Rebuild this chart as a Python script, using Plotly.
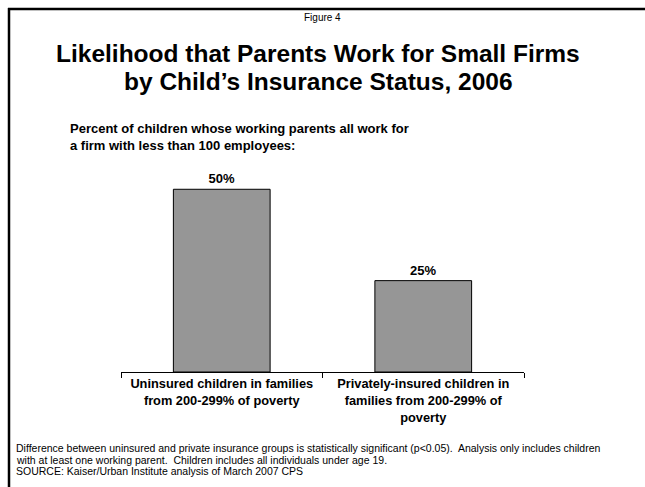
import plotly.graph_objects as go

categories = [
    "Uninsured children in families<br>from 200-299% of poverty",
    "Privately-insured children in<br>families from 200-299% of<br>poverty",
]
values = [50, 25]

W, H = 645, 487
PL, PR, PT, PB = 121, 524, 171, 372  # plot area in pixels
FONT = "Liberation Sans, Arial, sans-serif"


def px(x):
    return (x - PL) / (PR - PL)


def py(y):
    return (PB - y) / (PB - PT)


fig = go.Figure(
    go.Bar(
        x=categories,
        y=values,
        width=0.48,
        marker=dict(color="#969696", line=dict(color="#000000", width=1)),
        text=[f"<b>{v}%</b>" for v in values],
        textposition="outside",
        textfont=dict(family=FONT, size=13, color="#000000"),
        cliponaxis=False,
    )
)

fig.update_layout(
    width=W,
    height=H,
    margin=dict(l=PL, r=W - PR, t=PT, b=H - PB),
    paper_bgcolor="#ffffff",
    plot_bgcolor="#ffffff",
    showlegend=False,
    font=dict(family=FONT, color="#000000"),
    xaxis=dict(
        tickmode="array",
        tickvals=categories,
        ticktext=[f"<b>{c}</b>" for c in categories],
        tickfont=dict(family=FONT, size=12.8, color="#000000"),
        showline=True,
        linecolor="#000000",
        linewidth=1,
        ticks="outside",
        tickson="boundaries",
        ticklen=5,
        tickcolor="#000000",
        showgrid=False,
        fixedrange=True,
    ),
    yaxis=dict(
        range=[0, 55],
        visible=False,
        showgrid=False,
        zeroline=False,
        fixedrange=True,
    ),
)

annotations = [
    dict(text="Figure 4", x=px(322), y=py(17), size=10, bold=False, xanchor="center"),
    dict(text="Likelihood that Parents Work for Small Firms", x=px(318), y=py(53),
         size=24.5, bold=True, xanchor="center"),
    dict(text="by Child\u2019s Insurance Status, 2006", x=px(318), y=py(82),
         size=24.5, bold=True, xanchor="center"),
    dict(text="Percent of children whose working parents all work for", x=px(68), y=py(128),
         size=13, bold=True, xanchor="left"),
    dict(text="a firm with less than 100 employees:", x=px(68), y=py(145),
         size=13, bold=True, xanchor="left"),
    dict(text="Difference between uninsured and private insurance groups is statistically "
              "significant (p<0.05).  Analysis only includes children",
         x=px(14), y=py(448), size=10.5, bold=False, xanchor="left"),
    dict(text="with at least one working parent.  Children includes all individuals under age 19.",
         x=px(14), y=py(460), size=10.5, bold=False, xanchor="left"),
    dict(text="SOURCE: Kaiser/Urban Institute analysis of March 2007 CPS",
         x=px(14), y=py(471), size=10.5, bold=False, xanchor="left"),
]

for a in annotations:
    txt = f"<b>{a['text']}</b>" if a["bold"] else a["text"]
    fig.add_annotation(
        text=txt, x=a["x"], y=a["y"], xref="paper", yref="paper",
        xanchor=a["xanchor"], yanchor="middle", showarrow=False,
        font=dict(family=FONT, size=a["size"], color="#000000"),
    )

# Frame lines along the top and left edges of the slide
fig.add_shape(type="line", xref="paper", yref="paper",
              x0=px(8), x1=px(650), y0=py(9), y1=py(9),
              line=dict(color="#000000", width=2.5))
fig.add_shape(type="line", xref="paper", yref="paper",
              x0=px(9), x1=px(9), y0=py(8), y1=py(495),
              line=dict(color="#000000", width=2.5))

fig.write_html("out.html")
